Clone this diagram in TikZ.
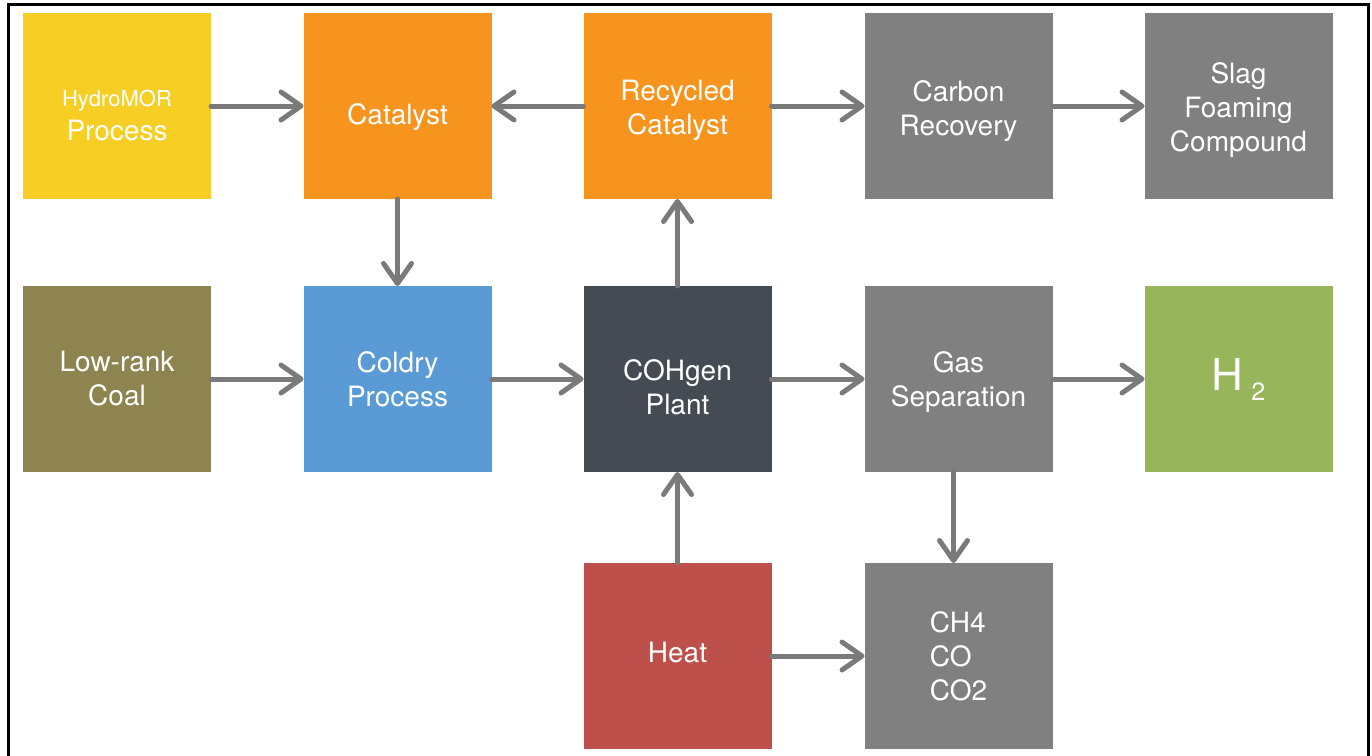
\documentclass[tikz,border=0pt]{standalone}
\usepackage{fontspec}
\setmainfont{TeX Gyre Heros}
\usetikzlibrary{arrows.meta}
\definecolor{cyellow}{RGB}{246,206,36}
\definecolor{corange}{RGB}{246,148,30}
\definecolor{cgray}{RGB}{128,128,128}
\definecolor{colive}{RGB}{141,132,80}
\definecolor{cblue}{RGB}{91,155,213}
\definecolor{cdark}{RGB}{69,75,82}
\definecolor{cred}{RGB}{190,80,75}
\definecolor{cgreen}{RGB}{151,181,90}
\definecolor{arrowgray}{RGB}{122,122,122}
\tikzset{
  box/.style={minimum width=188pt, minimum height=186pt, inner sep=0pt, outer sep=0pt},
  txt/.style={text=white, align=center, inner sep=0pt, font=\fontsize{28}{34}\selectfont},
  arr/.style={draw=arrowgray, line width=5pt, line cap=round,
    -{Straight Barb[length=20pt,width=28pt,round]}}
}
\begin{document}
\begin{tikzpicture}[x=1pt,y=-1pt]
\useasboundingbox (0,0) rectangle (1372,755);
\draw[line width=3pt, black] (8,760) -- (8,4) -- (1368,4) -- (1368,760);
% row 1
\node[box, fill=cyellow, label={[txt, yshift=-9pt]center:{{\fontsize{22}{24}\selectfont HydroMOR}\\Process}}] (hydro) at (117,106) {};
\node[box, fill=corange, label={[txt, yshift=-11pt]center:Catalyst}] (cat) at (397.5,106) {};
\node[box, fill=corange, label={[txt, yshift=-4pt]center:{Recycled\\Catalyst}}] (rec) at (677.5,106) {};
\node[box, fill=cgray, label={[txt, yshift=-5pt]center:{Carbon\\Recovery}}] (carb) at (958.5,106) {};
\node[box, fill=cgray, label={[txt, yshift=-4pt]center:{Slag\\Foaming\\Compound}}] (slag) at (1238.5,106) {};
% row 2
\node[box, fill=colive, label={[txt]center:{Low-rank\\Coal}}] (coal) at (117,379) {};
\node[box, fill=cblue, label={[txt]center:{Coldry\\Process}}] (cold) at (397.5,379) {};
\node[box, fill=cdark, label={[txt, yshift=-8pt]center:{COHgen\\Plant}}] (coh) at (677.5,379) {};
\node[box, fill=cgray, label={[txt, yshift=-3pt]center:{Gas\\Separation}}] (gas) at (958.5,379) {};
\node[box, fill=cgreen, label={[txt]center:{\fontsize{44}{44}\selectfont H\hspace{8pt}\raisebox{-10pt}{\fontsize{25}{25}\selectfont 2}}}] (h2) at (1238.5,379) {};
% row 3
\node[box, fill=cred, label={[txt, yshift=4pt]center:Heat}] (heat) at (677.5,656) {};
\node[box, fill=cgray, label={[txt, align=left]center:{CH4\\CO\\CO2}}] (ch) at (958.5,656) {};
% arrows
\draw[arr] (hydro) -- (cat);
\draw[arr] (rec) -- (cat);
\draw[arr] (rec) -- (carb);
\draw[arr] (carb) -- (slag);
\draw[arr] (cat) -- (cold);
\draw[arr] (coal) -- (cold);
\draw[arr] (cold) -- (coh);
\draw[arr] (coh) -- (rec);
\draw[arr] (coh) -- (gas);
\draw[arr] (gas) -- (h2);
\draw[arr] ([xshift=-5pt]gas.south) -- ([xshift=-5pt]ch.north);
\draw[arr] (heat) -- (coh);
\draw[arr] (heat) -- (ch);
\end{tikzpicture}
\end{document}
